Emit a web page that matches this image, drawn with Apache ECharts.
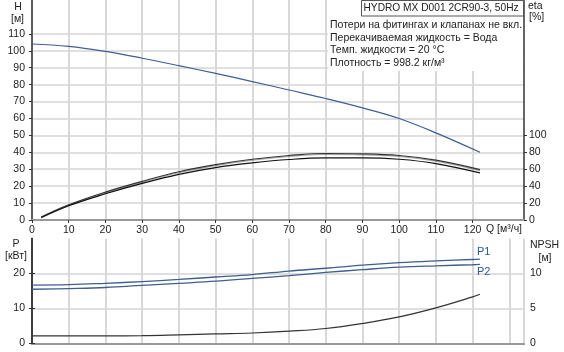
<!DOCTYPE html>
<html>
<head>
<meta charset="utf-8">
<script src="https://cdn.jsdelivr.net/npm/echarts@6/dist/echarts.min.js"></script>
<style>html,body{margin:0;padding:0;background:#fff;}#c{width:564px;height:352px;}</style>
</head>
<body>
<div id="c"></div>
<script>
// ---- data ----
const qH = [0, 10, 20, 30, 40, 50, 60, 70, 80, 90, 100, 110, 122];
const headH = [104, 102.6, 99.6, 95.6, 91.2, 86.6, 81.8, 76.8, 71.8, 66.3, 60, 51.5, 40];
const qEta = [2.5, 10, 20, 30, 40, 50, 60, 70, 80, 90, 100, 110, 122];
const eta1 = [3.5, 18, 33, 45.7, 57, 65.5, 71.8, 76.2, 78.6, 78.2, 76.2, 70.7, 59.6];
const eta2 = [3, 16.9, 31, 43.3, 54, 62, 67.5, 71.5, 73.4, 73.4, 71.8, 66.7, 55.6];
const qP = [0, 10, 20, 30, 40, 50, 60, 70, 80, 90, 100, 110, 120, 122];
const p1 = [16.7, 16.8, 17.2, 17.7, 18.3, 19, 19.7, 20.7, 21.5, 22.4, 23.1, 23.6, 24, 24.1];
const p2 = [15.5, 15.7, 16, 16.6, 17.2, 17.8, 18.6, 19.4, 20.3, 21.1, 21.8, 22.2, 22.5, 22.6];
const npsh = [1.1, 1.1, 1.1, 1.12, 1.23, 1.37, 1.5, 1.76, 2.14, 2.86, 3.8, 5.09, 6.66, 7.04];
const hTicks = [0, 10, 20, 30, 40, 50, 60, 70, 80, 90, 100, 110];
const etaTicks = [0, 20, 40, 60, 80, 100];
const pTicks = [0, 10, 20];
const npshTicks = [0, 5, 10];
const qTicks = [0, 10, 20, 30, 40, 50, 60, 70, 80, 90, 100, 110, 120];
const titleText = 'HYDRO MX D001 2CR90-3, 50Hz';
const infoLines = ['Потери на фитингах и клапанах не вкл.', 'Перекачиваемая жидкость = Вода', 'Темп. жидкости = 20 °C', 'Плотность = 998.2 кг/м³'];

const zip = (xs, ys) => xs.map((x, i) => [x, ys[i]]);
const FONT = 'Liberation Sans, Arial, sans-serif';
const FS = 10.5;
const lbl = (vals, margin) => ({
  customValues: vals, color: '#222', fontSize: FS, fontFamily: FONT, margin: margin
});
const tick = vals => ({ show: true, customValues: vals, length: 3, lineStyle: { color: '#333' } });
const gridLine = { show: true, lineStyle: { color: '#d4d4d4', width: 1.5 } };
const vGridLine = { show: true, lineStyle: { color: '#d8d8d8', width: 2 } };
const darkAxis = { show: true, lineStyle: { color: '#333', width: 1.5 } };
const grayAxis = { show: true, lineStyle: { color: '#999', width: 2 } };

const chart = echarts.init(document.getElementById('c'), null, { renderer: 'canvas' });
const txt = (x, y, s, align, fs) => ({
  type: 'text', x: x, y: y, z: 100,
  style: { text: s, fill: '#222', font: (fs || FS) + 'px ' + FONT, textAlign: align || 'left', textVerticalAlign: 'middle' }
});

chart.setOption({
  animation: false,
  backgroundColor: '#fff',
  grid: [
    { left: 32, width: 492, top: 0, height: 220 },
    { left: 32, width: 492, top: 238.5, height: 105 }
  ],
  xAxis: [
    { gridIndex: 0, type: 'value', min: 0, max: 134, interval: 10, axisLine: grayAxis, axisTick: tick(qTicks),
      axisLabel: lbl(qTicks, 5), splitLine: vGridLine },
    { gridIndex: 1, type: 'value', min: 0, max: 134, interval: 10, position: 'bottom', axisLine: grayAxis,
      axisTick: { show: false }, axisLabel: { show: false }, splitLine: vGridLine },
    { gridIndex: 1, type: 'value', min: 0, max: 134, interval: 10, position: 'top', axisLine: grayAxis,
      axisTick: { show: false }, axisLabel: { show: false }, splitLine: { show: false } }
  ],
  yAxis: [
    { gridIndex: 0, type: 'value', min: 0, max: 130, interval: 10, position: 'left', axisLine: darkAxis,
      axisTick: tick(hTicks), axisLabel: lbl(hTicks, 7), splitLine: gridLine },
    { gridIndex: 0, type: 'value', min: 0, max: 260, interval: 20, position: 'right', axisLine: darkAxis,
      axisTick: tick(etaTicks), axisLabel: lbl(etaTicks, 5), splitLine: { show: false } },
    { gridIndex: 1, type: 'value', min: 0, max: 30, interval: 10, position: 'left', axisLine: darkAxis,
      axisTick: tick(pTicks), axisLabel: lbl(pTicks, 7), splitLine: gridLine },
    { gridIndex: 1, type: 'value', min: 0, max: 15, interval: 5, position: 'right', axisLine: darkAxis,
      axisTick: tick(npshTicks), axisLabel: lbl(npshTicks, 6), splitLine: { show: false } }
  ],
  series: [
    { name: 'H', type: 'line', xAxisIndex: 0, yAxisIndex: 0, data: zip(qH, headH), smooth: 0.4, symbol: 'none',
      lineStyle: { color: '#3d5f94', width: 1.2 } },
    { name: 'eta1', type: 'line', xAxisIndex: 0, yAxisIndex: 1, data: zip(qEta, eta1), smooth: 0.4, symbol: 'none',
      lineStyle: { color: '#333', width: 1.2, shadowColor: 'rgba(0,0,0,0.35)', shadowOffsetY: 1 } },
    { name: 'eta2', type: 'line', xAxisIndex: 0, yAxisIndex: 1, data: zip(qEta, eta2), smooth: 0.4, symbol: 'none',
      lineStyle: { color: '#111', width: 1.2 } },
    { name: 'P1', type: 'line', xAxisIndex: 1, yAxisIndex: 2, data: zip(qP, p1), smooth: 0.4, symbol: 'none',
      lineStyle: { color: '#3f5f8f', width: 1.3 },
      endLabel: { show: true, formatter: 'P1', color: '#2b5a9e', fontSize: 11, fontFamily: FONT, offset: [-11, -7] } },
    { name: 'P2', type: 'line', xAxisIndex: 1, yAxisIndex: 2, data: zip(qP, p2), smooth: 0.4, symbol: 'none',
      lineStyle: { color: '#3f5f8f', width: 1.3 },
      endLabel: { show: true, formatter: 'P2', color: '#2b5a9e', fontSize: 11, fontFamily: FONT, offset: [-11, 8] } },
    { name: 'NPSH', type: 'line', xAxisIndex: 1, yAxisIndex: 3, data: zip(qP, npsh), smooth: 0.4, symbol: 'none',
      lineStyle: { color: '#333', width: 1.2 } }
  ],
  graphic: [
    { type: 'rect', z: 90, shape: { x: 328, y: 16, width: 195, height: 55 }, style: { fill: '#fff' } },
    { type: 'rect', z: 95, shape: { x: 361.5, y: 0.5, width: 162, height: 15.5 }, style: { fill: '#fff', stroke: '#555', lineWidth: 1 } },
    txt(363.5, 8.5, titleText, 'left', 10.2),
    txt(330, 25.5, infoLines[0]),
    txt(330, 38, infoLines[1]),
    txt(330, 50.5, infoLines[2]),
    txt(330, 63, infoLines[3]),
    txt(18, 7.5, 'H', 'center'),
    txt(17.5, 19, '[м]', 'center'),
    txt(528, 6.5, 'eta'),
    txt(529, 17.5, '[%]'),
    txt(16, 244, 'P', 'center'),
    txt(16, 256, '[кВт]', 'center'),
    txt(530, 245, 'NPSH'),
    txt(545, 258, '[м]', 'center'),
    txt(486, 229.5, 'Q [м³/ч]')
  ]
});
</script>
</body>
</html>
